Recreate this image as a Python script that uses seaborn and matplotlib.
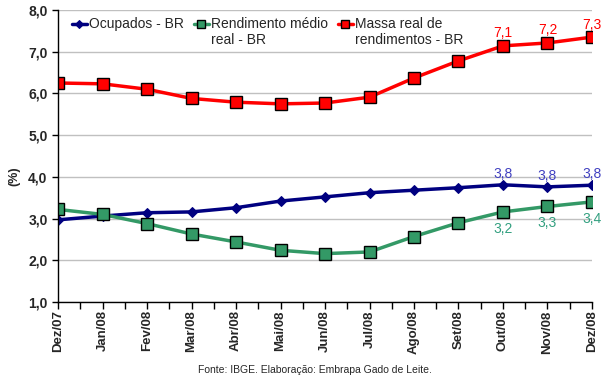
import matplotlib
matplotlib.use('Agg')
import matplotlib.pyplot as plt
from matplotlib.ticker import MultipleLocator, FuncFormatter
import seaborn as sns
import pandas as pd

months = ['Dez/07', 'Jan/08', 'Fev/08', 'Mar/08', 'Abr/08', 'Mai/08', 'Jun/08',
          'Jul/08', 'Ago/08', 'Set/08', 'Out/08', 'Nov/08', 'Dez/08']
ocupados = [2.97, 3.06, 3.14, 3.16, 3.26, 3.42, 3.52, 3.62, 3.68, 3.74, 3.81, 3.76, 3.80]
rendimento = [3.22, 3.10, 2.88, 2.63, 2.44, 2.24, 2.16, 2.20, 2.57, 2.90, 3.16, 3.29, 3.40]
massa = [6.25, 6.23, 6.10, 5.88, 5.79, 5.75, 5.77, 5.91, 6.37, 6.78, 7.14, 7.21, 7.35]

labels_ocup = {10: '3,8', 11: '3,8', 12: '3,8'}
labels_rend = {10: '3,2', 11: '3,3', 12: '3,4'}
labels_massa = {10: '7,1', 11: '7,2', 12: '7,3'}

sns.set_style('white')
plt.rcParams['font.family'] = ['Liberation Sans', 'DejaVu Sans']

fig = plt.figure(figsize=(6.05, 3.81), dpi=100)
ax = fig.add_axes([0.0959, 0.2073, 0.8826, 0.7665])

df = pd.DataFrame({'pos': range(len(months)), 'ocup': ocupados,
                   'rend': rendimento, 'massa': massa})

sns.lineplot(data=df, x='pos', y='ocup', ax=ax, color='#000080', lw=2.5,
             marker='D', markersize=5, markeredgecolor='#000080', label='Ocupados - BR\n')
sns.lineplot(data=df, x='pos', y='rend', ax=ax, color='#339966', lw=2.5,
             marker='s', markersize=8, markeredgecolor='black', markeredgewidth=1,
             label='Rendimento médio\nreal - BR')
sns.lineplot(data=df, x='pos', y='massa', ax=ax, color='#FF0000', lw=2.5,
             marker='s', markersize=8, markeredgecolor='black', markeredgewidth=1,
             label='Massa real de\nrendimentos - BR')

for i, t in labels_ocup.items():
    ax.annotate(t, (i, ocupados[i]), xytext=(0, 3), textcoords='offset points',
                ha='center', va='bottom', color='#4040C0', fontsize=10, annotation_clip=False)
for i, t in labels_rend.items():
    ax.annotate(t, (i, rendimento[i]), xytext=(0, -7), textcoords='offset points',
                ha='center', va='top', color='#33A080', fontsize=10, annotation_clip=False)
for i, t in labels_massa.items():
    ax.annotate(t, (i, massa[i]), xytext=(0, 4), textcoords='offset points',
                ha='center', va='bottom', color='#FF0000', fontsize=10, annotation_clip=False)

ax.set_xlim(0, 12)
ax.set_ylim(1, 8)
ax.set_xticks(range(len(months)))
ax.set_xticklabels(months, rotation=90, fontweight='bold', fontsize=9.5)
ax.xaxis.set_minor_locator(MultipleLocator(0.5))
ax.yaxis.set_major_locator(MultipleLocator(1))
ax.yaxis.set_major_formatter(FuncFormatter(lambda v, p: f'{v:.1f}'.replace('.', ',')))
for lab in ax.get_yticklabels():
    lab.set_fontweight('bold')
    lab.set_fontsize(10)
ax.tick_params(axis='x', which='both', direction='out', length=5, width=1, color='black',
               bottom=True, pad=1)
ax.tick_params(axis='y', direction='out', length=4, width=1, color='black', left=True)
ax.grid(axis='y', color='#C0C0C0', lw=1)
ax.set_axisbelow(True)
for s in ['top', 'right']:
    ax.spines[s].set_visible(False)
for s in ['left', 'bottom']:
    ax.spines[s].set_color('black')
    ax.spines[s].set_linewidth(1)
ax.set_xlabel('')
ax.set_ylabel('(%)', fontweight='bold', fontsize=9)
ax.yaxis.set_label_coords(-0.07, 0.43)

leg = ax.legend(loc='upper left', bbox_to_anchor=(0.015, 0.995), ncol=3, frameon=False,
                fontsize=10, handlelength=1.1, handletextpad=0.15, columnspacing=0.7,
                borderaxespad=0.0, markerscale=0.8)
for h in leg.legend_handles:
    h.set_ydata([y + 6 for y in h.get_ydata()])

fig.text(0.52, 0.022, 'Fonte: IBGE. Elaboração: Embrapa Gado de Leite.', ha='center',
         fontsize=7.5)

fig.savefig('out.png', dpi=100)
